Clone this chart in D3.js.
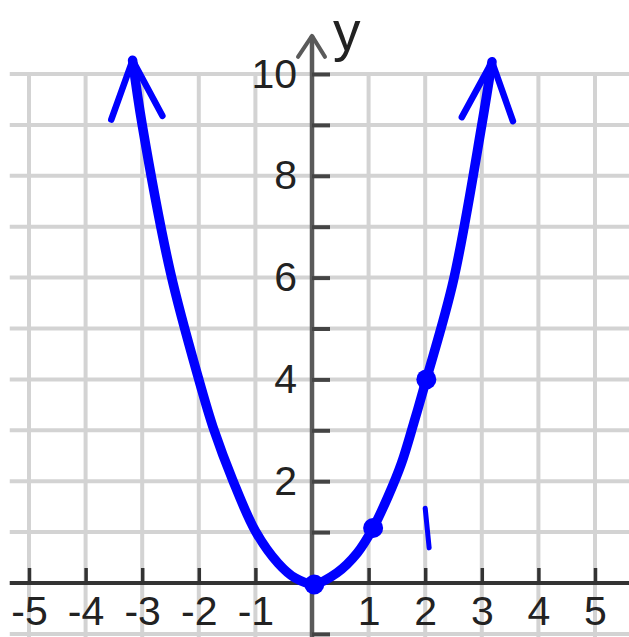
<!DOCTYPE html>
<html>
<head>
<meta charset="utf-8">
<script src="https://cdn.jsdelivr.net/npm/d3@7"></script>
<style>
  html, body { margin: 0; padding: 0; background: #fff; }
  svg { display: block; }
</style>
</head>
<body>
<script>
// Hand-traced plot of y = x² with its vertex and two marked points
const xTicks = [-5, -4, -3, -2, -1, 1, 2, 3, 4, 5];
const xTickLabels = ["-5", "-4", "-3", "-2", "-1", "1", "2", "3", "4", "5"];
const yTicks = [-1, 1, 2, 3, 4, 5, 6, 7, 8, 9, 10];
const yLabelTicks = [2, 4, 6, 8, 10];
const yTickLabels = ["2", "4", "6", "8", "10"];
const xGrid = [-5, -4, -3, -2, -1, 0, 1, 2, 3, 4, 5];
const yGrid = [-1, 0, 1, 2, 3, 4, 5, 6, 7, 8, 9, 10];

// points along the drawn parabola
const curveX = [-3.17, -3, -2.5, -2, -1.73, -1.4, -1.0, -0.6, -0.3, 0.04, 0.44, 0.8, 1.08, 1.34, 1.58, 1.8, 2.02, 2.5, 3, 3.18];
const curveY = [10.27, 9, 6.1, 4, 3, 2.02, 1.02, 0.39, 0.1, -0.02, 0.2, 0.59, 1.08, 1.69, 2.35, 3.15, 4, 5.95, 9, 10.24];

// highlighted points
const dotX = [0.04, 1.08, 2.02];
const dotY = [-0.03, 1.08, 4.0];

// short pen stroke beside x = 2
const penX = [2.0, 2.07];
const penY = [1.47, 0.69];

const W = 629, H = 637;
const svg = d3.select("body").append("svg").attr("width", W).attr("height", H);

const x = d3.scaleLinear().domain([-5, 5]).range([29, 595]);
const y = d3.scaleLinear().domain([0, 10]).range([583, 74]);

const xMin = -5.34, xMax = 5.7, yMin = -1.2, yTop = 10;

// grid
const grid = svg.append("g").attr("stroke", "#d3d3d3").attr("stroke-width", 4);
grid.selectAll("line.v").data(xGrid).join("line").attr("class", "v")
  .attr("x1", d => x(d)).attr("x2", d => x(d))
  .attr("y1", y(yTop) - 2).attr("y2", y(yMin));
grid.selectAll("line.h").data(yGrid).join("line").attr("class", "h")
  .attr("y1", d => y(d)).attr("y2", d => y(d))
  .attr("x1", x(xMin)).attr("x2", x(xMax));

// y axis line with open arrow
const yAxisTop = y(10.75);
svg.append("line")
  .attr("x1", x(0)).attr("x2", x(0))
  .attr("y1", y(yMin)).attr("y2", yAxisTop)
  .attr("stroke", "#5a5a5a").attr("stroke-width", 4.5);
svg.append("path")
  .attr("d", `M${x(0) - 14},${yAxisTop + 21} L${x(0)},${yAxisTop} L${x(0) + 13},${yAxisTop + 21}`)
  .attr("fill", "none").attr("stroke", "#5a5a5a").attr("stroke-width", 4)
  .attr("stroke-linecap", "round").attr("stroke-linejoin", "round");

// x axis line
svg.append("line")
  .attr("x1", x(xMin)).attr("x2", x(xMax))
  .attr("y1", y(0)).attr("y2", y(0))
  .attr("stroke", "#333").attr("stroke-width", 4);

const font = "'Liberation Sans', Arial, sans-serif";

// y tick marks (to the right of the axis)
const yTickAxis = svg.append("g").attr("transform", `translate(${x(0)},0)`)
  .call(d3.axisRight(y).tickValues(yTicks).tickSize(18).tickFormat(""));
yTickAxis.select(".domain").remove();
yTickAxis.selectAll(".tick line").attr("stroke", "#444").attr("stroke-width", 4);

// y labels
const yLabAxis = svg.append("g").attr("transform", `translate(${x(0)},0)`)
  .call(d3.axisLeft(y).tickValues(yLabelTicks).tickSize(0).tickPadding(15)
    .tickFormat((d, i) => yTickLabels[i]));
yLabAxis.select(".domain").remove();
yLabAxis.selectAll("text").attr("font-family", font).attr("font-size", 41).attr("fill", "#222");

// x tick marks (above the axis)
const xTickAxis = svg.append("g").attr("transform", `translate(0,${y(0)})`)
  .call(d3.axisTop(x).tickValues(xTicks).tickSize(15).tickFormat(""));
xTickAxis.select(".domain").remove();
xTickAxis.selectAll(".tick line").attr("stroke", "#333").attr("stroke-width", 3.5);

// x labels
const xLabAxis = svg.append("g").attr("transform", `translate(0,${y(0)})`)
  .call(d3.axisBottom(x).tickValues(xTicks).tickSize(0).tickPadding(13)
    .tickFormat((d, i) => xTickLabels[i]));
xLabAxis.select(".domain").remove();
xLabAxis.selectAll("text").attr("font-family", font).attr("font-size", 41).attr("fill", "#222");

// axis name
svg.append("text")
  .attr("x", x(0) + 21).attr("y", 50)
  .attr("font-family", font).attr("font-size", 55).attr("fill", "#222")
  .text("y");

// parabola
const blue = "#0000ff";
const pts = curveX.map((d, i) => [x(d), y(curveY[i])]);
svg.append("path")
  .attr("d", d3.line().curve(d3.curveCatmullRom.alpha(0.5))(pts))
  .attr("fill", "none").attr("stroke", blue).attr("stroke-width", 9.5)
  .attr("stroke-linecap", "round").attr("stroke-linejoin", "round");

// open arrowheads at both ends of the curve
function arrowAt(tip, prev) {
  let dx = tip[0] - prev[0], dy = tip[1] - prev[1];
  const len = Math.hypot(dx, dy);
  dx /= len; dy /= len;
  // lean the head halfway toward vertical
  const a = Math.atan2(dy, dx);
  const up = -Math.PI / 2;
  const dir = (a + up) / 2;
  const back = dir + Math.PI;
  const half = 24 * Math.PI / 180, L = 63;
  const w1 = [tip[0] + L * Math.cos(back - half), tip[1] + L * Math.sin(back - half)];
  const w2 = [tip[0] + L * Math.cos(back + half), tip[1] + L * Math.sin(back + half)];
  svg.append("path")
    .attr("d", `M${w1[0]},${w1[1]} L${tip[0]},${tip[1]} L${w2[0]},${w2[1]}`)
    .attr("fill", "none").attr("stroke", blue).attr("stroke-width", 6.5)
    .attr("stroke-linecap", "round").attr("stroke-linejoin", "round");
}
arrowAt(pts[0], pts[1]);
arrowAt(pts[pts.length - 1], pts[pts.length - 2]);

// dots
svg.selectAll("circle.dot").data(dotX).join("circle").attr("class", "dot")
  .attr("cx", d => x(d)).attr("cy", (d, i) => y(dotY[i]))
  .attr("r", 10)
  .attr("fill", blue);

// pen stroke
svg.append("line")
  .attr("x1", x(penX[0])).attr("y1", y(penY[0]))
  .attr("x2", x(penX[1])).attr("y2", y(penY[1]))
  .attr("stroke", blue).attr("stroke-width", 5).attr("stroke-linecap", "round");
</script>
</body>
</html>
